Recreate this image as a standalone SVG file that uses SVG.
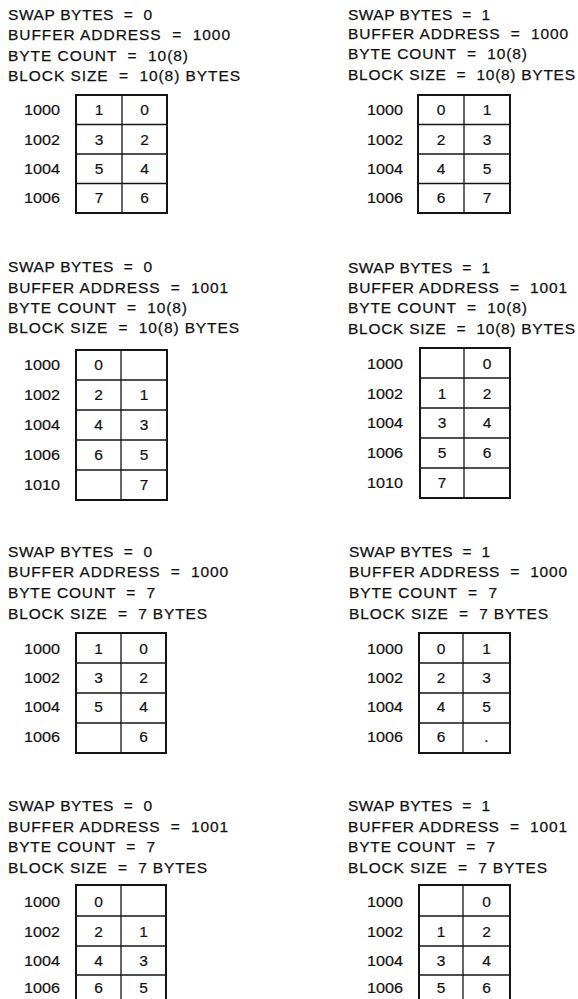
<svg xmlns="http://www.w3.org/2000/svg" width="578" height="999" viewBox="0 0 578 999" xml:space="preserve">
<style>
text{white-space:pre}
.t{font-family:"Liberation Sans",Arial,sans-serif;font-size:15.5px;fill:#111;stroke:#111;stroke-width:0.25}
.a{font-family:"Liberation Sans",Arial,sans-serif;font-size:15px;fill:#111;stroke:#111;stroke-width:0.2}
.c{font-family:"Liberation Sans",Arial,sans-serif;font-size:15.5px;fill:#111;stroke:#111;stroke-width:0.2;text-anchor:middle}
.box{fill:none;stroke:#141414;stroke-width:2}
.ln{stroke:#141414;stroke-width:1.3}
</style>
<rect width="578" height="999" fill="#fff"/>

<g id="panel1">
<text class="t" x="8" y="20" textLength="144" lengthAdjust="spacing">SWAP BYTES  =  0</text>
<text class="t" x="8" y="40" textLength="222" lengthAdjust="spacing">BUFFER ADDRESS  =  1000</text>
<text class="t" x="8" y="61" textLength="180" lengthAdjust="spacing">BYTE COUNT  =  10(8)</text>
<text class="t" x="8" y="81" textLength="232" lengthAdjust="spacing">BLOCK SIZE  =  10(8) BYTES</text>
<rect class="box" x="76" y="95" width="91" height="118"/>
<line class="ln" x1="122" y1="95" x2="122" y2="213"/>
<line class="ln" x1="76" y1="124.5" x2="167" y2="124.5"/>
<line class="ln" x1="76" y1="154" x2="167" y2="154"/>
<line class="ln" x1="76" y1="183.5" x2="167" y2="183.5"/>
<text class="a" x="24" y="115" textLength="36" lengthAdjust="spacingAndGlyphs">1000</text>
<text class="a" x="24" y="145" textLength="36" lengthAdjust="spacingAndGlyphs">1002</text>
<text class="a" x="24" y="174" textLength="36" lengthAdjust="spacingAndGlyphs">1004</text>
<text class="a" x="24" y="203" textLength="36" lengthAdjust="spacingAndGlyphs">1006</text>
<text class="c" x="99" y="115">1</text><text class="c" x="144.5" y="115">0</text>
<text class="c" x="99" y="145">3</text><text class="c" x="144.5" y="145">2</text>
<text class="c" x="99" y="174">5</text><text class="c" x="144.5" y="174">4</text>
<text class="c" x="99" y="203">7</text><text class="c" x="144.5" y="203">6</text>
</g>

<g id="panel2">
<text class="t" x="348" y="20" textLength="142" lengthAdjust="spacing">SWAP BYTES  =  1</text>
<text class="t" x="348" y="39" textLength="220" lengthAdjust="spacing">BUFFER ADDRESS  =  1000</text>
<text class="t" x="348" y="59" textLength="179" lengthAdjust="spacing">BYTE COUNT  =  10(8)</text>
<text class="t" x="348" y="80" textLength="227" lengthAdjust="spacing">BLOCK SIZE  =  10(8) BYTES</text>
<rect class="box" x="418" y="95" width="92" height="118"/>
<line class="ln" x1="464" y1="95" x2="464" y2="213"/>
<line class="ln" x1="418" y1="124.5" x2="510" y2="124.5"/>
<line class="ln" x1="418" y1="154" x2="510" y2="154"/>
<line class="ln" x1="418" y1="183.5" x2="510" y2="183.5"/>
<text class="a" x="367" y="115" textLength="36" lengthAdjust="spacingAndGlyphs">1000</text>
<text class="a" x="367" y="145" textLength="36" lengthAdjust="spacingAndGlyphs">1002</text>
<text class="a" x="367" y="174" textLength="36" lengthAdjust="spacingAndGlyphs">1004</text>
<text class="a" x="367" y="203" textLength="36" lengthAdjust="spacingAndGlyphs">1006</text>
<text class="c" x="441" y="115">0</text><text class="c" x="487" y="115">1</text>
<text class="c" x="441" y="145">2</text><text class="c" x="487" y="145">3</text>
<text class="c" x="441" y="174">4</text><text class="c" x="487" y="174">5</text>
<text class="c" x="441" y="203">6</text><text class="c" x="487" y="203">7</text>
</g>

<g id="panel3">
<text class="t" x="8" y="272" textLength="144" lengthAdjust="spacing">SWAP BYTES  =  0</text>
<text class="t" x="8" y="293" textLength="220" lengthAdjust="spacing">BUFFER ADDRESS  =  1001</text>
<text class="t" x="8" y="313" textLength="179" lengthAdjust="spacing">BYTE COUNT  =  10(8)</text>
<text class="t" x="8" y="333" textLength="231" lengthAdjust="spacing">BLOCK SIZE  =  10(8) BYTES</text>
<rect class="box" x="76" y="350" width="91" height="150"/>
<line class="ln" x1="121" y1="350" x2="121" y2="500"/>
<line class="ln" x1="76" y1="380" x2="167" y2="380"/>
<line class="ln" x1="76" y1="410" x2="167" y2="410"/>
<line class="ln" x1="76" y1="440" x2="167" y2="440"/>
<line class="ln" x1="76" y1="470" x2="167" y2="470"/>
<text class="a" x="24" y="370" textLength="36" lengthAdjust="spacingAndGlyphs">1000</text>
<text class="a" x="24" y="400" textLength="36" lengthAdjust="spacingAndGlyphs">1002</text>
<text class="a" x="24" y="430" textLength="36" lengthAdjust="spacingAndGlyphs">1004</text>
<text class="a" x="24" y="460" textLength="36" lengthAdjust="spacingAndGlyphs">1006</text>
<text class="a" x="24" y="490" textLength="36" lengthAdjust="spacingAndGlyphs">1010</text>
<text class="c" x="98.5" y="370">0</text>
<text class="c" x="98.5" y="400">2</text><text class="c" x="144" y="400">1</text>
<text class="c" x="98.5" y="430">4</text><text class="c" x="144" y="430">3</text>
<text class="c" x="98.5" y="460">6</text><text class="c" x="144" y="460">5</text>
<text class="c" x="144" y="490">7</text>
</g>

<g id="panel4">
<text class="t" x="348" y="273" textLength="142" lengthAdjust="spacing">SWAP BYTES  =  1</text>
<text class="t" x="348" y="293" textLength="219" lengthAdjust="spacing">BUFFER ADDRESS  =  1001</text>
<text class="t" x="348" y="313" textLength="179" lengthAdjust="spacing">BYTE COUNT  =  10(8)</text>
<text class="t" x="348" y="334" textLength="227" lengthAdjust="spacing">BLOCK SIZE  =  10(8) BYTES</text>
<rect class="box" x="420" y="348" width="90" height="150"/>
<line class="ln" x1="464" y1="348" x2="464" y2="498"/>
<line class="ln" x1="420" y1="378" x2="510" y2="378"/>
<line class="ln" x1="420" y1="408" x2="510" y2="408"/>
<line class="ln" x1="420" y1="438" x2="510" y2="438"/>
<line class="ln" x1="420" y1="468" x2="510" y2="468"/>
<text class="a" x="367" y="369" textLength="36" lengthAdjust="spacingAndGlyphs">1000</text>
<text class="a" x="367" y="399" textLength="36" lengthAdjust="spacingAndGlyphs">1002</text>
<text class="a" x="367" y="428" textLength="36" lengthAdjust="spacingAndGlyphs">1004</text>
<text class="a" x="367" y="458" textLength="36" lengthAdjust="spacingAndGlyphs">1006</text>
<text class="a" x="367" y="488" textLength="36" lengthAdjust="spacingAndGlyphs">1010</text>
<text class="c" x="487" y="369">0</text>
<text class="c" x="442" y="399">1</text><text class="c" x="487" y="399">2</text>
<text class="c" x="442" y="428">3</text><text class="c" x="487" y="428">4</text>
<text class="c" x="442" y="458">5</text><text class="c" x="487" y="458">6</text>
<text class="c" x="442" y="488">7</text>
</g>

<g id="panel5">
<text class="t" x="8" y="557" textLength="144" lengthAdjust="spacing">SWAP BYTES  =  0</text>
<text class="t" x="8" y="577" textLength="220" lengthAdjust="spacing">BUFFER ADDRESS  =  1000</text>
<text class="t" x="8" y="598" textLength="147" lengthAdjust="spacing">BYTE COUNT  =  7</text>
<text class="t" x="8" y="619" textLength="199" lengthAdjust="spacing">BLOCK SIZE  =  7 BYTES</text>
<rect class="box" x="76" y="633" width="90" height="120"/>
<line class="ln" x1="121" y1="633" x2="121" y2="753"/>
<line class="ln" x1="76" y1="663" x2="166" y2="663"/>
<line class="ln" x1="76" y1="693" x2="166" y2="693"/>
<line class="ln" x1="76" y1="723" x2="166" y2="723"/>
<text class="a" x="24" y="654" textLength="36" lengthAdjust="spacingAndGlyphs">1000</text>
<text class="a" x="24" y="683" textLength="36" lengthAdjust="spacingAndGlyphs">1002</text>
<text class="a" x="24" y="712" textLength="36" lengthAdjust="spacingAndGlyphs">1004</text>
<text class="a" x="24" y="742" textLength="36" lengthAdjust="spacingAndGlyphs">1006</text>
<text class="c" x="98.5" y="654">1</text><text class="c" x="143.5" y="654">0</text>
<text class="c" x="98.5" y="683">3</text><text class="c" x="143.5" y="683">2</text>
<text class="c" x="98.5" y="712">5</text><text class="c" x="143.5" y="712">4</text>
<text class="c" x="143.5" y="742">6</text>
</g>

<g id="panel6">
<text class="t" x="349" y="557" textLength="141" lengthAdjust="spacing">SWAP BYTES  =  1</text>
<text class="t" x="349" y="577" textLength="218" lengthAdjust="spacing">BUFFER ADDRESS  =  1000</text>
<text class="t" x="349" y="598" textLength="148" lengthAdjust="spacing">BYTE COUNT  =  7</text>
<text class="t" x="349" y="619" textLength="199" lengthAdjust="spacing">BLOCK SIZE  =  7 BYTES</text>
<rect class="box" x="419" y="633" width="91" height="120"/>
<line class="ln" x1="463" y1="633" x2="463" y2="753"/>
<line class="ln" x1="419" y1="663" x2="510" y2="663"/>
<line class="ln" x1="419" y1="693" x2="510" y2="693"/>
<line class="ln" x1="419" y1="723" x2="510" y2="723"/>
<text class="a" x="367" y="654" textLength="36" lengthAdjust="spacingAndGlyphs">1000</text>
<text class="a" x="367" y="683" textLength="36" lengthAdjust="spacingAndGlyphs">1002</text>
<text class="a" x="367" y="712" textLength="36" lengthAdjust="spacingAndGlyphs">1004</text>
<text class="a" x="367" y="742" textLength="36" lengthAdjust="spacingAndGlyphs">1006</text>
<text class="c" x="441" y="654">0</text><text class="c" x="486.5" y="654">1</text>
<text class="c" x="441" y="683">2</text><text class="c" x="486.5" y="683">3</text>
<text class="c" x="441" y="712">4</text><text class="c" x="486.5" y="712">5</text>
<text class="c" x="441" y="742">6</text><text class="c" x="486.5" y="742">.</text>
</g>

<g id="panel7">
<text class="t" x="8" y="811" textLength="144" lengthAdjust="spacing">SWAP BYTES  =  0</text>
<text class="t" x="8" y="832" textLength="220" lengthAdjust="spacing">BUFFER ADDRESS  =  1001</text>
<text class="t" x="8" y="852" textLength="147" lengthAdjust="spacing">BYTE COUNT  =  7</text>
<text class="t" x="8" y="873" textLength="199" lengthAdjust="spacing">BLOCK SIZE  =  7 BYTES</text>
<rect class="box" x="76" y="885" width="90" height="120"/>
<line class="ln" x1="121" y1="885" x2="121" y2="1005"/>
<line class="ln" x1="76" y1="916" x2="166" y2="916"/>
<line class="ln" x1="76" y1="946" x2="166" y2="946"/>
<line class="ln" x1="76" y1="975" x2="166" y2="975"/>
<text class="a" x="24" y="907" textLength="36" lengthAdjust="spacingAndGlyphs">1000</text>
<text class="a" x="24" y="937" textLength="36" lengthAdjust="spacingAndGlyphs">1002</text>
<text class="a" x="24" y="966" textLength="36" lengthAdjust="spacingAndGlyphs">1004</text>
<text class="a" x="24" y="993" textLength="36" lengthAdjust="spacingAndGlyphs">1006</text>
<text class="c" x="98.5" y="907">0</text>
<text class="c" x="98.5" y="937">2</text><text class="c" x="143.5" y="937">1</text>
<text class="c" x="98.5" y="966">4</text><text class="c" x="143.5" y="966">3</text>
<text class="c" x="98.5" y="993">6</text><text class="c" x="143.5" y="993">5</text>
</g>

<g id="panel8">
<text class="t" x="348" y="811" textLength="142" lengthAdjust="spacing">SWAP BYTES  =  1</text>
<text class="t" x="348" y="832" textLength="219" lengthAdjust="spacing">BUFFER ADDRESS  =  1001</text>
<text class="t" x="348" y="852" textLength="147" lengthAdjust="spacing">BYTE COUNT  =  7</text>
<text class="t" x="348" y="873" textLength="199" lengthAdjust="spacing">BLOCK SIZE  =  7 BYTES</text>
<rect class="box" x="419" y="885" width="91" height="120"/>
<line class="ln" x1="463" y1="885" x2="463" y2="1005"/>
<line class="ln" x1="419" y1="916" x2="510" y2="916"/>
<line class="ln" x1="419" y1="946" x2="510" y2="946"/>
<line class="ln" x1="419" y1="975" x2="510" y2="975"/>
<text class="a" x="367" y="907" textLength="36" lengthAdjust="spacingAndGlyphs">1000</text>
<text class="a" x="367" y="937" textLength="36" lengthAdjust="spacingAndGlyphs">1002</text>
<text class="a" x="367" y="966" textLength="36" lengthAdjust="spacingAndGlyphs">1004</text>
<text class="a" x="367" y="993" textLength="36" lengthAdjust="spacingAndGlyphs">1006</text>
<text class="c" x="486.5" y="907">0</text>
<text class="c" x="441" y="937">1</text><text class="c" x="486.5" y="937">2</text>
<text class="c" x="441" y="966">3</text><text class="c" x="486.5" y="966">4</text>
<text class="c" x="441" y="993">5</text><text class="c" x="486.5" y="993">6</text>
</g>
</svg>
